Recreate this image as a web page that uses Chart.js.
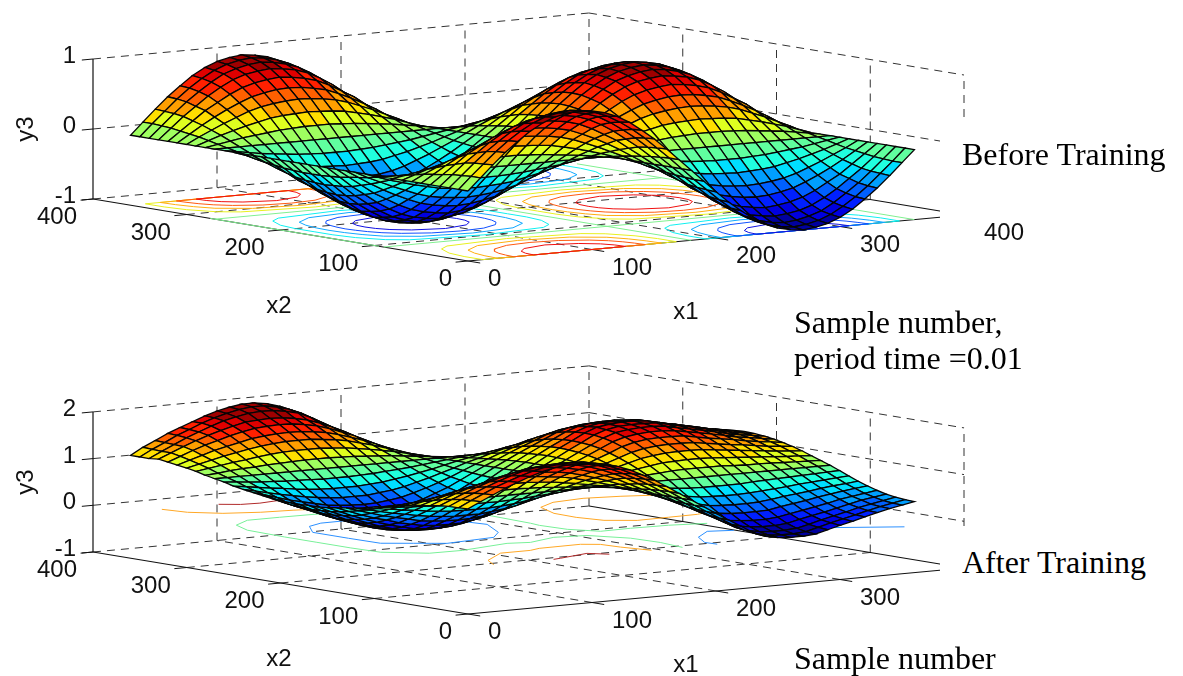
<!DOCTYPE html>
<html>
<head>
<meta charset="utf-8">
<title>Before and after training</title>
<script src="https://cdn.jsdelivr.net/npm/chart.js@4/dist/chart.umd.min.js"></script>
<style>
html, body { margin: 0; padding: 0; background: #fff; }
#page { position: relative; width: 1183px; height: 676px; overflow: hidden; }
canvas { position: absolute; left: 0; }
.tick { position: absolute; font: 24px "Liberation Sans", Arial, sans-serif; color: #111; white-space: nowrap; line-height: 1; }
.note { position: absolute; font: 32px "Liberation Serif", "Times New Roman", serif; color: #000; white-space: nowrap; line-height: 1; }
.mask { position: absolute; background: #fff; }
</style>
</head>
<body>
<div id="page">
  <canvas id="topChart" width="1183" height="330" style="top:0"></canvas>
  <canvas id="bottomChart" width="1183" height="346" style="top:330px"></canvas>
</div>
<script>
// ===== Data =====
const x1Samples = [0,10,20,30,40,50,60,70,80,90,100,110,120,130,140,150,160,170,180,190,200,210,220,230,240,250,260,270,280,290,300,310,320,330,340,350,360];
const x2Samples = x1Samples;
const x1Ticks = [0,100,200,300,400];
const x2Ticks = [0,100,200,300,400];
const zTicksTop = [-1,0,1];
const zTicksBottom = [-1,0,1,2];

// Before training, y3 x 100. One row per x2 sample, x1 runs along the row
const t00 = [0,17,34,50,64,77,87,94,98,100,98,94,87,77,64,50,34,17,0,-17,-34,-50,-64,-77,-87,-94,-98,-100,-98,-94,-87,-77,-64,-50,-34,-17,0];
const t01 = [0,17,33,49,63,75,85,92,96,98,96,92,85,75,63,49,33,17,0,-17,-33,-49,-63,-75,-85,-92,-96,-98,-96,-92,-85,-75,-63,-49,-33,-17,0];
const t02 = [0,16,32,47,60,72,82,88,92,94,92,88,82,72,60,47,32,16,0,-16,-32,-47,-60,-72,-82,-88,-92,-94,-92,-88,-82,-72,-60,-47,-32,-16,0];
const t03 = [0,15,30,43,56,67,76,82,85,87,85,82,76,67,56,43,30,15,0,-15,-30,-43,-56,-67,-76,-82,-85,-87,-85,-82,-76,-67,-56,-43,-30,-15,0];
const t04 = [0,13,26,39,49,59,67,72,75,77,75,72,67,59,49,39,26,13,0,-13,-26,-39,-49,-59,-67,-72,-75,-77,-75,-72,-67,-59,-49,-39,-26,-13,0];
const t05 = [0,11,22,32,41,49,56,60,63,64,63,60,56,49,41,32,22,11,0,-11,-22,-32,-41,-49,-56,-60,-63,-64,-63,-60,-56,-49,-41,-32,-22,-11,0];
const t06 = [0,9,17,25,32,39,44,47,49,50,49,47,44,39,32,25,17,9,0,-9,-17,-25,-32,-39,-44,-47,-49,-50,-49,-47,-44,-39,-32,-25,-17,-9,0];
const t07 = [0,6,12,17,22,26,30,32,33,34,33,32,30,26,22,17,12,6,0,-6,-12,-17,-22,-26,-30,-32,-33,-34,-33,-32,-30,-26,-22,-17,-12,-6,0];
const t08 = [0,3,6,9,11,13,15,16,17,17,17,16,15,13,11,9,6,3,0,-3,-6,-9,-11,-13,-15,-16,-17,-17,-17,-16,-15,-13,-11,-9,-6,-3,0];
const t09 = [0,0,0,0,0,0,0,0,0,0,0,0,0,0,0,0,0,0,0,0,0,0,0,0,0,0,0,0,0,0,0,0,0,0,0,0,0];
const t10 = [0,-3,-6,-9,-11,-13,-15,-16,-17,-17,-17,-16,-15,-13,-11,-9,-6,-3,0,3,6,9,11,13,15,16,17,17,17,16,15,13,11,9,6,3,0];
const t11 = [0,-6,-12,-17,-22,-26,-30,-32,-33,-34,-33,-32,-30,-26,-22,-17,-12,-6,0,6,12,17,22,26,30,32,33,34,33,32,30,26,22,17,12,6,0];
const t12 = [0,-9,-17,-25,-32,-39,-44,-47,-49,-50,-49,-47,-44,-39,-32,-25,-17,-9,0,9,17,25,32,39,44,47,49,50,49,47,44,39,32,25,17,9,0];
const t13 = [0,-11,-22,-32,-41,-49,-56,-60,-63,-64,-63,-60,-56,-49,-41,-32,-22,-11,0,11,22,32,41,49,56,60,63,64,63,60,56,49,41,32,22,11,0];
const t14 = [0,-13,-26,-39,-49,-59,-67,-72,-75,-77,-75,-72,-67,-59,-49,-39,-26,-13,0,13,26,39,49,59,67,72,75,77,75,72,67,59,49,39,26,13,0];
const t15 = [0,-15,-30,-43,-56,-67,-76,-82,-85,-87,-85,-82,-76,-67,-56,-43,-30,-15,0,15,30,43,56,67,76,82,85,87,85,82,76,67,56,43,30,15,0];
const t16 = [0,-16,-32,-47,-60,-72,-82,-88,-92,-94,-92,-88,-82,-72,-60,-47,-32,-16,0,16,32,47,60,72,82,88,92,94,92,88,82,72,60,47,32,16,0];
const t17 = [0,-17,-33,-49,-63,-75,-85,-92,-96,-98,-96,-92,-85,-75,-63,-49,-33,-17,0,17,33,49,63,75,85,92,96,98,96,92,85,75,63,49,33,17,0];
const t18 = [0,-17,-34,-50,-64,-77,-87,-94,-98,-100,-98,-94,-87,-77,-64,-50,-34,-17,0,17,34,50,64,77,87,94,98,100,98,94,87,77,64,50,34,17,0];
const topRows = [t00,t01,t02,t03,t04,t05,t06,t07,t08,t09,t10,t11,t12,t13,t14,t15,t16,t17,t18,t17,t16,t15,t14,t13,t12,t11,t10,t09,t08,t07,t06,t05,t04,t03,t02,t01,t00];

// After training, y3 x 100
const b00 = [125,138,150,162,172,182,190,196,199,200,199,194,187,177,164,150,134,117,100,83,66,50,34,18,7,2,0,0,2,9,16,22,29,36,42,47,52];
const b01 = [124,137,149,161,171,180,188,194,197,198,197,192,185,175,163,149,133,117,100,83,67,51,35,20,9,4,2,2,4,11,18,24,30,37,43,48,53];
const b02 = [124,136,147,158,168,177,185,190,193,194,193,188,182,172,160,147,132,116,100,84,68,53,38,23,13,8,6,6,8,14,21,27,33,40,45,50,55];
const b03 = [122,133,144,154,163,171,178,184,186,187,186,182,176,167,156,144,130,115,100,85,70,56,43,29,19,15,13,13,15,21,27,32,38,44,50,54,58];
const b04 = [119,129,139,148,155,163,169,174,176,177,176,172,167,159,149,139,126,113,100,87,74,61,49,37,28,25,23,23,25,30,35,40,45,51,55,59,63];
const b05 = [116,124,132,140,146,152,158,161,163,164,163,160,156,149,141,132,122,111,100,89,78,68,58,48,40,37,36,36,37,42,46,50,55,59,63,66,69];
const b06 = [113,119,125,131,136,141,145,148,150,150,150,147,144,139,132,125,117,109,100,91,83,75,67,59,53,51,50,50,51,54,58,61,64,68,71,73,76];
const b07 = [109,113,117,121,124,128,131,133,134,134,134,132,130,126,122,117,112,106,100,94,88,83,78,72,68,67,66,66,67,69,71,73,76,78,80,82,84];
const b08 = [104,106,109,111,112,114,115,116,117,117,117,116,115,113,111,109,106,103,100,97,94,91,89,86,84,83,83,83,83,85,86,87,88,89,90,91,92];
const b09 = [100,100,100,100,100,100,100,100,100,100,100,100,100,100,100,100,100,100,100,100,100,100,100,100,100,100,100,100,100,100,100,100,100,100,100,100,100];
const b10 = [96,94,91,89,88,86,85,84,83,83,83,84,85,87,89,91,94,97,100,103,105,107,110,112,114,115,115,115,115,113,112,112,111,110,109,108,107];
const b11 = [91,87,83,79,76,72,69,67,66,66,66,68,70,74,78,83,88,94,100,105,110,115,120,124,128,129,130,130,129,127,125,123,121,119,117,116,114];
const b12 = [87,81,75,69,64,59,55,52,50,50,50,53,56,61,68,75,83,91,100,107,115,122,129,136,140,143,144,144,143,140,137,134,131,128,125,123,121];
const b13 = [84,76,68,60,54,48,42,39,37,36,37,40,44,51,59,68,78,89,100,109,119,128,137,146,152,155,156,156,155,151,147,143,140,136,132,130,127];
const b14 = [81,71,61,52,45,37,31,26,24,23,24,28,33,41,51,61,74,87,100,111,123,134,144,155,162,166,167,167,166,161,156,152,148,143,139,136,132];
const b15 = [78,67,56,46,37,29,22,16,14,13,14,18,24,33,44,56,70,85,100,113,126,138,150,162,170,174,176,176,174,169,164,159,154,148,144,140,136];
const b16 = [76,64,53,42,32,23,15,10,7,6,7,12,18,28,40,53,68,84,100,114,128,141,154,167,176,180,182,182,180,174,169,164,158,152,147,143,139];
const b17 = [76,63,51,39,29,20,12,6,3,2,3,8,15,25,37,51,67,83,100,115,129,143,156,170,179,184,185,185,184,178,172,167,161,155,149,145,141];
const b18 = [75,62,50,38,28,18,10,4,1,0,1,6,13,23,36,50,66,83,100,115,130,144,157,171,181,185,187,187,185,179,173,168,162,156,150,146,142];
// the back hump sits a little higher and further along x1 than the front one
const b34 = [120,133,145,157,167,177,186,192,197,199,198,194,188,176,162,148,132,116,100,84,68,53,38,23,13,8,6,6,8,14,21,27,33,40,45,50,55];
const b35 = [120,134,146,159,169,180,189,196,202,205,205,200,193,182,168,151,133,117,100,83,67,51,35,20,9,4,2,2,4,11,18,24,30,37,43,48,53];
const b36 = [120,135,147,160,170,180,190,198,204,208,208,204,196,185,170,152,134,117,100,83,66,50,34,18,7,2,0,0,2,9,16,22,29,36,42,47,52];
const bottomRows = [b00,b01,b02,b03,b04,b05,b06,b07,b08,b09,b10,b11,b12,b13,b14,b15,b16,b17,b18,b17,b16,b15,b14,b13,b12,b11,b10,b09,b08,b07,b06,b05,b04,b03,b34,b35,b36];

// Contours of the first surface: one quarter of each ring as [x2 offset, x1 half width]
const ring80 = [[0,37],[10,36],[20,32],[30,22],[37,0]];
const ring60 = [[0,53],[10,52],[20,50],[30,46],[40,38],[50,21],[53,0]];
const ring40 = [[0,66],[15,65],[30,62],[45,56],[60,37],[66,0]];
const ring20 = [[0,78],[20,78],[40,75],[60,66],[70,54],[78,0]];
const highCentres = [[90,0],[90,360],[270,180]];
const lowCentres = [[90,180],[270,0],[270,360]];
const zeroLines = [[[0,95],[0,275]],[[180,0],[180,360]],[[360,0],[360,360]],[[0,90],[360,90]],[[0,270],[360,270]]];

// Contours of the second surface, [x1, x2]
const bottomRed1 = [[68,356],[79,347],[93,345],[112,349]];
const bottomRed2 = [[69,0],[76,2],[105,12],[114,0]];
const bottomOrange1 = [[23,357],[27,335],[42,317],[65,307],[88,303],[101,299],[125,303],[150,325],[165,358]];
const bottomOrange2 = [[225,220],[247,236],[275,241],[301,235],[321,227],[345,190],[330,150],[284,131],[260,130],[234,129],[217,142],[212,165],[213,190],[225,220]];
const bottomOrange3 = [[21,0],[22,2],[32,21],[61,46],[85,46],[96,51],[130,52],[140,44],[142,25],[148,0]];
const bottomGreen1 = [[261,90],[235,97],[206,99],[181,98],[170,119],[168,146],[170,158],[173,207],[165,240],[130,270],[86,278],[59,279],[33,279],[12,263],[2,238],[0,196],[0,162],[0,125],[2,96],[24,73],[50,72],[95,84],[110,79],[138,91],[161,86],[175,58],[177,29],[173,0]];
const bottomBlue1 = [[46,230],[62,239],[100,240],[135,225],[144,170],[125,133],[107,114],[64,107],[47,120],[30,133],[29,166],[29,204],[46,230]];
const bottomBlue2 = [[201,0],[200,12],[213,36],[236,57],[253,51]];
const bottomBlue3 = [[300,32],[352,0]];

// ===== Drawing helpers =====
const panelTop = { ox: 468, oy: 261, zUnit: 70, zMin: -1, zMax: 1, cLow: -1, cHigh: 1, rows: topRows, zTicks: zTicksTop, yMin: 0, yMax: 330 };
const panelBottom = { ox: 468, oy: 614, zUnit: 46.7, zMin: -1, zMax: 2, cLow: 0, cHigh: 2, rows: bottomRows, zTicks: zTicksBottom, yMin: 330, yMax: 676 };

function project(p, x1, x2, z) {
    return {
        x: p.ox + 1.24 * x1 - 0.9375 * x2,
        y: p.oy - 0.115 * x1 - 0.155 * x2 - p.zUnit * (z - p.zMin)
    };
}

function jetColor(z, low, high) {
    let idx = Math.floor((z - low) / (high - low) * 16);
    idx = Math.max(0, Math.min(15, idx));
    const t = (idx + 0.5) / 16;
    const part = v => Math.round(255 * Math.max(0, Math.min(1, 1.5 - Math.abs(4 * t - v))));
    return `rgb(${part(3)},${part(2)},${part(1)})`;
}

function lineSet(points, color, width, dash) {
    return { data: points, showLine: true, borderColor: color, borderWidth: width, borderDash: dash || [], pointRadius: 0, tension: 0, fill: false };
}

function faceSets(p) {
    const sets = [];
    // first dataset is painted last, so the corner nearest the viewer comes first
    for (let j = 0; j < x2Samples.length - 1; j++) {
        for (let i = 0; i < x1Samples.length - 1; i++) {
            const z = [p.rows[j][i] / 100, p.rows[j][i + 1] / 100, p.rows[j + 1][i + 1] / 100, p.rows[j + 1][i] / 100];
            const pts = [
                project(p, x1Samples[i], x2Samples[j], z[0]),
                project(p, x1Samples[i + 1], x2Samples[j], z[1]),
                project(p, x1Samples[i + 1], x2Samples[j + 1], z[2]),
                project(p, x1Samples[i], x2Samples[j + 1], z[3])
            ];
            pts.push(pts[0]);
            const mean = (z[0] + z[1] + z[2] + z[3]) / 4;
            sets.push({ data: pts, showLine: true, borderColor: '#050505', borderWidth: 1.3, pointRadius: 0, tension: 0, fill: 'shape', backgroundColor: jetColor(mean, p.cLow, p.cHigh) });
        }
    }
    return sets;
}

function ringLoop(ring, cx, cy) {
    const pts = [];
    ring.forEach(r => pts.push([cx + r[1], cy + r[0]]));
    ring.slice().reverse().forEach(r => pts.push([cx - r[1], cy + r[0]]));
    ring.forEach(r => pts.push([cx - r[1], cy - r[0]]));
    ring.slice().reverse().forEach(r => pts.push([cx + r[1], cy - r[0]]));
    return pts.filter(q => q[1] >= 0 && q[1] <= 360);
}

function contourSet(p, pts, zPlane, color) {
    return lineSet(pts.map(q => project(p, q[0], q[1], zPlane)), color, 1);
}

function topContours(p) {
    const sets = [];
    const add = (ring, centres, color) => centres.forEach(c => sets.push(contourSet(p, ringLoop(ring, c[0], c[1]), -1, color)));
    add(ring80, highCentres, '#f01010');
    add(ring60, highCentres, '#ff5a10');
    add(ring40, highCentres, '#ffae10');
    add(ring20, highCentres, '#e8f020');
    add(ring80, lowCentres, '#1010e0');
    add(ring60, lowCentres, '#1050ff');
    add(ring40, lowCentres, '#10a8ff');
    add(ring20, lowCentres, '#10f0f0');
    zeroLines.forEach(l => sets.push(contourSet(p, l, -1, '#80f090')));
    return sets;
}

function bottomContours(p) {
    const sets = [];
    [bottomRed1, bottomRed2].forEach(c => sets.push(contourSet(p, c, 0, '#b02a2a')));
    [bottomOrange1, bottomOrange2, bottomOrange3].forEach(c => sets.push(contourSet(p, c, 0, '#ffa826')));
    [bottomGreen1].forEach(c => sets.push(contourSet(p, c, 0, '#78f098')));
    [bottomBlue1, bottomBlue2, bottomBlue3].forEach(c => sets.push(contourSet(p, c, 0, '#2c90ff')));
    return sets;
}

function boxSets(p) {
    const sets = [];
    const dash = [8, 6];
    const seg = (a, b, color, width, d) => sets.push(lineSet([project(p, a[0], a[1], a[2]), project(p, b[0], b[1], b[2])], color, width, d));
    // ticks and solid axes
    p.zTicks.forEach(z => seg([0, 400, z], [-9, 400, z], '#111', 1));
    x1Ticks.forEach(v => seg([v, 0, p.zMin], [v, -13, p.zMin], '#111', 1));
    x2Ticks.forEach(v => seg([0, v, p.zMin], [-10, v, p.zMin], '#111', 1));
    seg([0, 0, p.zMin], [400, 0, p.zMin], '#111', 1.2);
    seg([0, 0, p.zMin], [0, 400, p.zMin], '#111', 1.2);
    seg([400, 0, p.zMin], [400, 400, p.zMin], '#111', 1.2);
    seg([0, 400, p.zMin], [0, 400, p.zMax], '#111', 1.2);
    // dashed grid, floor and both back walls
    seg([0, 400, p.zMin], [400, 400, p.zMin], '#333', 1, dash);
    [100, 200, 300].forEach(v => {
        seg([v, 0, p.zMin], [v, 400, p.zMin], '#333', 1, dash);
        seg([0, v, p.zMin], [400, v, p.zMin], '#333', 1, dash);
        seg([v, 400, p.zMin], [v, 400, p.zMax], '#333', 1, dash);
        seg([400, v, p.zMin], [400, v, p.zMax], '#333', 1, dash);
    });
    seg([400, 400, p.zMin], [400, 400, p.zMax], '#333', 1, dash);
    seg([400, 0, p.zMin], [400, 0, p.zMax], '#333', 1, dash);
    p.zTicks.filter(z => z !== p.zMin).forEach(z => {
        seg([0, 400, z], [400, 400, z], '#333', 1, dash);
        seg([400, 400, z], [400, 0, z], '#333', 1, dash);
    });
    return sets;
}

function drawPanel(canvasId, p, contours) {
    new Chart(document.getElementById(canvasId), {
        type: 'scatter',
        data: { datasets: faceSets(p).concat(contours(p), boxSets(p)) },
        options: {
            responsive: false,
            animation: false,
            events: [],
            layout: { padding: 0 },
            plugins: { legend: { display: false }, tooltip: { enabled: false } },
            scales: {
                x: { type: 'linear', min: 0, max: 1183, display: false },
                y: { type: 'linear', min: p.yMin, max: p.yMax, reverse: true, display: false }
            }
        }
    });
}

// ===== Text =====
const page = document.getElementById('page');

function addText(cls, text, left, top, transform) {
    const el = document.createElement('div');
    el.className = cls;
    el.innerText = text;
    el.style.left = left + 'px';
    el.style.top = top + 'px';
    if (transform) el.style.transform = transform;
    page.appendChild(el);
}

function addMask(left, top, width, height) {
    const el = document.createElement('div');
    el.className = 'mask';
    el.style.cssText = `left:${left}px;top:${top}px;width:${width}px;height:${height}px`;
    page.appendChild(el);
}

function axisLabels(p, x1List) {
    x1List.forEach(v => {
        const q = project(p, v, 0, p.zMin);
        addText('tick', String(v), q.x + 20, q.y + 17, 'translate(0,-50%)');
    });
    x2Ticks.forEach(v => {
        const q = project(p, 0, v, p.zMin);
        addText('tick', String(v), q.x - 16, q.y + 17, 'translate(-100%,-50%)');
    });
    p.zTicks.forEach(z => {
        const q = project(p, 0, 400, z);
        addText('tick', String(z), 76, q.y - 4, 'translate(-100%,-50%)');
    });
    addText('tick', 'x2', 279, p.oy + 44, 'translate(-50%,-50%)');
    addText('tick', 'x1', 686, p.oy + 50, 'translate(-50%,-50%)');
    addText('tick', 'y3', 25, project(p, 0, 400, (p.zMin + p.zMax) / 2).y, 'translate(-50%,-50%) rotate(-90deg)');
}

// ===== Init =====
drawPanel('topChart', panelTop, topContours);
drawPanel('bottomChart', panelBottom, bottomContours);

addMask(940, 123, 243, 99);
addMask(940, 531, 243, 60);
axisLabels(panelTop, x1Ticks);
axisLabels(panelBottom, [0, 100, 200, 300]);

addText('note', 'Before Training', 962, 138);
addText('note', 'Sample number,', 794, 306);
addText('note', 'period time =0.01', 794, 342);
addText('note', 'After Training', 962, 546);
addText('note', 'Sample number', 794, 642);
</script>
</body>
</html>
